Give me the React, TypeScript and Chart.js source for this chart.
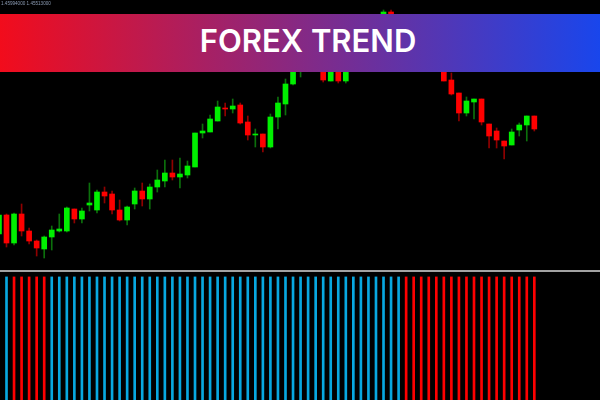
import React, { useEffect, useRef } from "react";
import { Chart, registerables } from "chart.js";

Chart.register(...registerables);

// Bar index of the first candle (partly off-screen on the left)
const FIRST_BAR = -1;

const opens = [
  1.4426, 1.4445, 1.4417, 1.4446, 1.4429, 1.4419, 1.4411, 1.4423, 1.4429, 1.4429,
  1.4451, 1.4441, 1.4455, 1.4450, 1.4468, 1.4466, 1.4450, 1.4440, 1.4456, 1.4469,
  1.4461, 1.4473, 1.4479, 1.4487, 1.4483, 1.4485, 1.4493, 1.4527, 1.4528, 1.4539,
  1.4552, 1.4551, 1.4555, 1.4538, 1.4525, 1.4526, 1.4513, 1.4543, 1.4556, 1.4576,
  1.4596, 1.4610, 1.4600, 1.4602, 1.4579, 1.4598, 1.4579, 1.4610, 1.4622, 1.4612,
  1.4630, 1.4632, 1.4648, 1.4630, 1.4618, 1.4610, 1.4620, 1.4605, 1.4596, 1.4600,
  1.4580, 1.4567, 1.4547, 1.4558, 1.4561, 1.4536, 1.4529, 1.4519, 1.4515, 1.4530,
  1.4535, 1.4544,
];
const highs = [
  1.4447, 1.4446, 1.4447, 1.4456, 1.4432, 1.4420, 1.4424, 1.4434, 1.4446, 1.4453,
  1.4451, 1.4452, 1.4477, 1.4470, 1.4473, 1.4469, 1.4460, 1.4454, 1.4472, 1.4477,
  1.4476, 1.4490, 1.4500, 1.4500, 1.4502, 1.4499, 1.4527, 1.4536, 1.4545, 1.4559,
  1.4557, 1.4561, 1.4557, 1.4544, 1.4531, 1.4526, 1.4546, 1.4563, 1.4581, 1.4594,
  1.4615, 1.4618, 1.4620, 1.4616, 1.4605, 1.4605, 1.4615, 1.4628, 1.4630, 1.4636,
  1.4645, 1.4650, 1.4650, 1.4636, 1.4624, 1.4625, 1.4624, 1.4610, 1.4610, 1.4605,
  1.4587, 1.4567, 1.4563, 1.4561, 1.4561, 1.4536, 1.4532, 1.4519, 1.4531, 1.4537,
  1.4544, 1.4544,
];
const lows = [
  1.4424, 1.4413, 1.4415, 1.4424, 1.4416, 1.4404, 1.4402, 1.4410, 1.4428, 1.4428,
  1.4437, 1.4437, 1.4449, 1.4447, 1.4457, 1.4446, 1.4439, 1.4435, 1.4451, 1.4454,
  1.4451, 1.4468, 1.4473, 1.4480, 1.4472, 1.4482, 1.4493, 1.4522, 1.4528, 1.4539,
  1.4544, 1.4547, 1.4536, 1.4520, 1.4513, 1.4508, 1.4512, 1.4531, 1.4545, 1.4575,
  1.4583, 1.4598, 1.4594, 1.4578, 1.4579, 1.4577, 1.4577, 1.4604, 1.4606, 1.4608,
  1.4624, 1.4628, 1.4624, 1.4612, 1.4605, 1.4606, 1.4600, 1.4592, 1.4592, 1.4579,
  1.4565, 1.4539, 1.4544, 1.4541, 1.4535, 1.4512, 1.4512, 1.4501, 1.4515, 1.4524,
  1.4519, 1.4529,
];
const closes = [
  1.4445, 1.4417, 1.4446, 1.4429, 1.4419, 1.4412, 1.4423, 1.4430, 1.4431, 1.4452,
  1.4441, 1.4449, 1.4457, 1.4468, 1.4464, 1.4450, 1.4440, 1.4453, 1.4469, 1.4461,
  1.4473, 1.4480, 1.4487, 1.4483, 1.4486, 1.4494, 1.4527, 1.4529, 1.4541, 1.4553,
  1.4551, 1.4554, 1.4537, 1.4525, 1.4526, 1.4513, 1.4543, 1.4557, 1.4576, 1.4590,
  1.4610, 1.4602, 1.4615, 1.4580, 1.4598, 1.4579, 1.4610, 1.4622, 1.4612, 1.4632,
  1.4642, 1.4648, 1.4630, 1.4618, 1.4610, 1.4620, 1.4604, 1.4598, 1.4605, 1.4579,
  1.4566, 1.4547, 1.4559, 1.4561, 1.4538, 1.4524, 1.4520, 1.4514, 1.4528, 1.4535,
  1.4544, 1.4531,
];

// Trend indicator per bar: 1 = up (blue), -1 = down (red), null = none
const trend: (number | null)[] = [
  null, 1, -1, -1, -1, -1, -1,
  1, 1, 1, 1, 1, 1, 1, 1, 1, 1,
  1, 1, 1, 1, 1, 1, 1, 1, 1, 1,
  1, 1, 1, 1, 1, 1, 1, 1, 1, 1,
  1, 1, 1, 1, 1, 1, 1, 1, 1, 1,
  1, 1, 1, 1, 1, 1, 1,
  -1, -1, -1, -1, -1, -1, -1, -1, -1,
  -1, -1, -1, -1, -1, -1, -1, -1, -1,
];

const quoteText = "1.45994000 1.45513000";
const titleText = "FOREX TREND";

const X_MIN = -0.862;
const X_MAX = 78.71;
const Y_MIN = 1.4391;
const Y_MAX = 1.466;

export default function App() {
  const mainRef = useRef<HTMLCanvasElement>(null);
  const histRef = useRef<HTMLCanvasElement>(null);

  useEffect(() => {
    const xs = opens.map((_, k) => k + FIRST_BAR);
    const up = opens.map((o, k) => closes[k] >= o);

    const main = new Chart(mainRef.current!, {
      type: "bar",
      data: {
        datasets: [
          {
            label: "body",
            data: xs.map((x, k) => ({ x, y: [opens[k], closes[k]] })) as any,
            backgroundColor: up.map((u) => (u ? "#00f000" : "#ff0000")),
            borderWidth: 0,
            barThickness: 5,
            minBarLength: 1,
            grouped: false,
            order: 0,
          } as any,
          {
            label: "wick",
            data: xs.map((x, k) => ({ x, y: [lows[k], highs[k]] })) as any,
            backgroundColor: up.map((u) => (u ? "#0c700c" : "#900000")),
            borderWidth: 0,
            barThickness: 1,
            grouped: false,
            order: 1,
          } as any,
        ],
      },
      options: {
        responsive: false,
        animation: false,
        events: [],
        layout: { padding: 0 },
        plugins: { legend: { display: false }, tooltip: { enabled: false } },
        scales: {
          x: { type: "linear", min: X_MIN, max: X_MAX, display: false, offset: false } as any,
          y: { type: "linear", min: Y_MIN, max: Y_MAX, display: false },
        },
      },
      plugins: [
        {
          id: "quote",
          afterDraw(c: any) {
            const ctx = c.ctx;
            ctx.save();
            ctx.font = '4.6px "Liberation Sans"';
            ctx.fillStyle = "#8c9cb4";
            ctx.textBaseline = "alphabetic";
            ctx.fillText(quoteText, 1, 4.6);
            ctx.restore();
          },
        },
      ],
    });

    const hist = new Chart(histRef.current!, {
      type: "bar",
      data: {
        datasets: [
          {
            label: "trend",
            data: xs
              .map((x, k) => ({ x, y: trend[k] === null ? null : 1 }))
              .filter((d) => d.y !== null) as any,
            backgroundColor: xs
              .map((_, k) => trend[k])
              .filter((t) => t !== null)
              .map((t) => (t! > 0 ? "#08a8e0" : "#ff0000")),
            borderWidth: 0,
            barThickness: 2,
          } as any,
        ],
      },
      options: {
        responsive: false,
        animation: false,
        events: [],
        layout: { padding: 0 },
        plugins: { legend: { display: false }, tooltip: { enabled: false } },
        scales: {
          x: { type: "linear", min: X_MIN, max: X_MAX, display: false, offset: false } as any,
          y: { type: "linear", min: 0, max: 1.04, display: false },
        },
      },
    });

    return () => {
      main.destroy();
      hist.destroy();
    };
  }, []);

  return (
    <div
      style={{
        position: "absolute",
        left: 0,
        top: 0,
        width: 600,
        height: 400,
        background: "#000",
        overflow: "hidden",
      }}
    >
      <canvas
        ref={mainRef}
        width={600}
        height={269}
        style={{ position: "absolute", left: 0, top: 0, width: 600, height: 269 }}
      />
      <div
        style={{
          position: "absolute",
          left: 0,
          top: 14,
          width: 600,
          height: 58,
          background: "linear-gradient(90deg, #f20c1c 0%, #1946ec 100%)",
        }}
      />
      <div
        style={{
          position: "absolute",
          left: 308,
          top: 25,
          transform: "translateX(-50%)",
          height: 32,
          lineHeight: "32px",
          fontFamily: "Inter, 'Open Sans', sans-serif",
          fontWeight: 600,
          fontSize: 31,
          color: "#ffffff",
          whiteSpace: "nowrap",
        }}
      >
        {titleText}
      </div>
      <div
        style={{
          position: "absolute",
          left: 0,
          top: 270,
          width: 600,
          height: 2,
          background: "#a2a2a2",
        }}
      />
      <canvas
        ref={histRef}
        width={600}
        height={128}
        style={{ position: "absolute", left: 0, top: 272, width: 600, height: 128 }}
      />
    </div>
  );
}
